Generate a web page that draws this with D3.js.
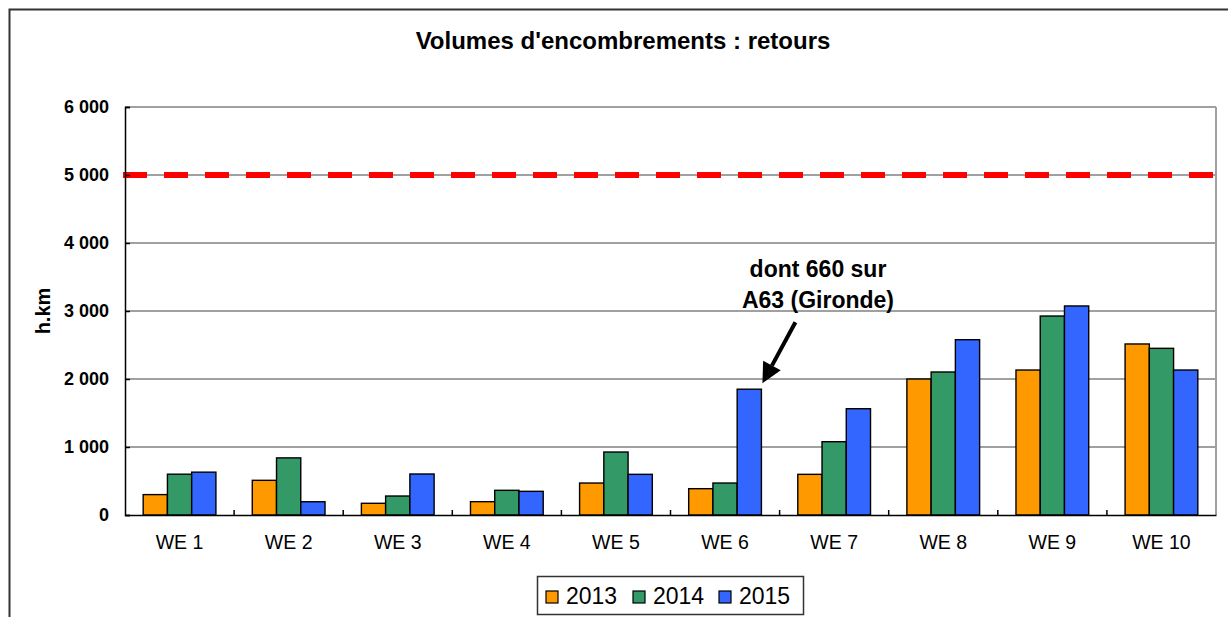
<!DOCTYPE html>
<html>
<head>
<meta charset="utf-8">
<script src="https://cdn.jsdelivr.net/npm/d3@7"></script>
<style>
  html, body { margin: 0; padding: 0; background: #fff; }
  svg { display: block; font-family: "Liberation Sans", Arial, sans-serif; }
</style>
</head>
<body>
<svg id="chart" width="1228" height="617"></svg>
<script>
// Weekend categories and yearly congestion volumes (h.km)
const categories = ["WE 1", "WE 2", "WE 3", "WE 4", "WE 5", "WE 6", "WE 7", "WE 8", "WE 9", "WE 10"];
const years = ["2013", "2014", "2015"];
const values2013 = [300, 510, 172, 196, 470, 387, 598, 2000, 2132, 2515];
const values2014 = [600, 840, 279, 363, 926, 470, 1078, 2103, 2926, 2451];
const values2015 = [630, 195, 603, 348, 598, 1850, 1563, 2578, 3074, 2132];
const yTicks = [0, 1000, 2000, 3000, 4000, 5000, 6000];
const threshold = 5000;
const colors = ["#ff9900", "#339966", "#3366ff"];
const chartTitle = "Volumes d'encombrements : retours";
const yTitle = "h.km";
const noteLines = ["dont 660 sur", "A63 (Gironde)"];
const noteCategory = "WE 6";

const series = [values2013, values2014, values2015];
const svg = d3.select("#chart");
const W = 1228, H = 617;
const plot = { left: 125, right: 1216, top: 107, bottom: 515 };

svg.append("rect").attr("width", W).attr("height", H).attr("fill", "#fff");

// outer frame
svg.append("rect")
  .attr("x", 9.5).attr("y", 9.5).attr("width", 1400).attr("height", 800)
  .attr("fill", "none").attr("stroke", "#333").attr("stroke-width", 2);

const x = d3.scaleBand().domain(categories).range([plot.left, plot.right]).paddingInner(0).paddingOuter(0);
const xs = d3.scaleBand().domain(years).range([0, x.bandwidth()]).paddingInner(0).paddingOuter(0.75);
const y = d3.scaleLinear().domain([0, 6000]).range([plot.bottom, plot.top]);

const fr = d3.formatLocale({ decimal: ",", thousands: " ", grouping: [3], currency: ["", " €"] });
const fmt = fr.format(",d");

// gridlines
svg.append("g").selectAll("line").data(yTicks.filter(d => d > 0)).join("line")
  .attr("x1", plot.left).attr("x2", plot.right)
  .attr("y1", d => y(d)).attr("y2", d => y(d))
  .attr("stroke", "#808080").attr("stroke-width", 1.5);

// right border of plot area
svg.append("line")
  .attr("x1", plot.right).attr("x2", plot.right)
  .attr("y1", plot.top).attr("y2", plot.bottom)
  .attr("stroke", "#a0a0a0").attr("stroke-width", 2);

// threshold line
svg.append("line")
  .attr("x1", plot.left - 2).attr("x2", plot.right)
  .attr("y1", y(threshold)).attr("y2", y(threshold))
  .attr("stroke", "#ff0000").attr("stroke-width", 6)
  .attr("stroke-dasharray", "24 17");

// bars
const groups = svg.append("g").selectAll("g").data(categories).join("g")
  .attr("transform", d => `translate(${x(d)},0)`);
groups.selectAll("rect")
  .data((c, i) => years.map((yr, k) => ({ yr, k, v: series[k][i] })))
  .join("rect")
  .attr("x", d => xs(d.yr))
  .attr("width", xs.bandwidth())
  .attr("y", d => y(d.v))
  .attr("height", d => y(0) - y(d.v))
  .attr("fill", d => colors[d.k])
  .attr("stroke", "#000").attr("stroke-width", 1.4);

// y axis
const yAxis = d3.axisLeft(y).tickValues(yTicks).tickFormat(fmt).tickSize(-5).tickPadding(16);
const gy = svg.append("g").attr("transform", `translate(${plot.left},0)`).call(yAxis);
gy.select(".domain").attr("stroke", "#000").attr("stroke-width", 1.5);
gy.selectAll(".tick line").attr("stroke", "#000").attr("stroke-width", 1.5);
gy.selectAll(".tick text").attr("font-size", 18).attr("font-weight", "bold").attr("fill", "#000");

// x axis
const xAxis = d3.axisBottom(x).tickSize(0).tickPadding(20);
const gx = svg.append("g").attr("transform", `translate(0,${plot.bottom})`).call(xAxis);
gx.select(".domain").attr("stroke", "#000").attr("stroke-width", 1.5);
gx.selectAll(".tick text").attr("font-size", 19.5).attr("fill", "#000");
// category separators
svg.append("g").selectAll("line").data(categories.slice(1)).join("line")
  .attr("x1", d => x(d)).attr("x2", d => x(d))
  .attr("y1", plot.bottom).attr("y2", plot.bottom - 5)
  .attr("stroke", "#000").attr("stroke-width", 1.5);

// title
svg.append("text").attr("x", 623).attr("y", 49).attr("text-anchor", "middle")
  .attr("font-size", 24).attr("font-weight", "bold").text(chartTitle);

// y axis title
svg.append("text").attr("transform", "translate(50,311) rotate(-90)")
  .attr("text-anchor", "middle").attr("font-size", 20).attr("font-weight", "bold").text(yTitle);

// annotation
const noteX = x(noteCategory) + xs("2015") + xs.bandwidth();
const noteY = y(values2015[categories.indexOf(noteCategory)]);
const tip = [noteX + 1, noteY - 6];
const tail = [noteX + 34, noteY - 67];
const ang = Math.atan2(tip[1] - tail[1], tip[0] - tail[0]);
const headLen = 20, headHalf = 10;
const base = [tip[0] - headLen * Math.cos(ang), tip[1] - headLen * Math.sin(ang)];
svg.append("line")
  .attr("x1", tail[0]).attr("y1", tail[1]).attr("x2", base[0]).attr("y2", base[1])
  .attr("stroke", "#000").attr("stroke-width", 4);
svg.append("path")
  .attr("d", d3.line()([
    tip,
    [base[0] + headHalf * Math.sin(ang), base[1] - headHalf * Math.cos(ang)],
    [base[0] - headHalf * Math.sin(ang), base[1] + headHalf * Math.cos(ang)]
  ]) + "Z")
  .attr("fill", "#000");
svg.append("g").selectAll("text").data(noteLines).join("text")
  .attr("x", 818).attr("y", (d, i) => 277 + i * 31)
  .attr("text-anchor", "middle").attr("font-size", 23).attr("font-weight", "bold")
  .text(d => d);

// legend
const lg = svg.append("g");
lg.append("rect").attr("x", 537.5).attr("y", 576.5).attr("width", 266).attr("height", 38)
  .attr("fill", "#fff").attr("stroke", "#333").attr("stroke-width", 1.5);
const legendX = [546, 633, 719];
years.forEach((yr, k) => {
  lg.append("rect").attr("x", legendX[k]).attr("y", 591).attr("width", 12).attr("height", 12)
    .attr("fill", colors[k]).attr("stroke", "#000").attr("stroke-width", 1.2);
  lg.append("text").attr("x", legendX[k] + 20).attr("y", 604)
    .attr("font-size", 23).attr("fill", "#000").text(yr);
});
</script>
</body>
</html>
